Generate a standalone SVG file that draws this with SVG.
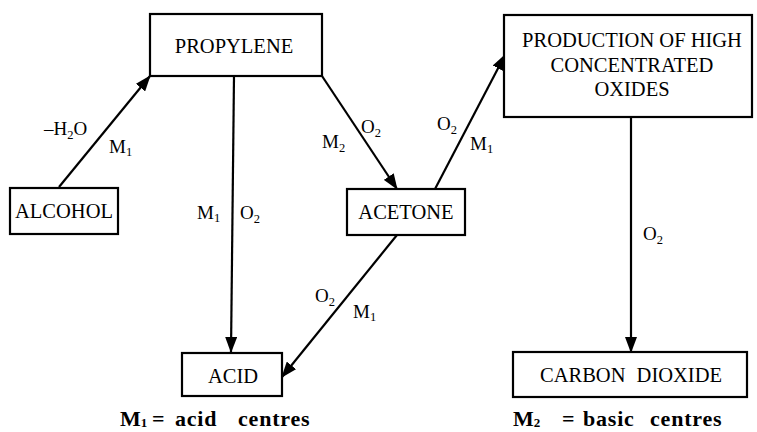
<svg xmlns="http://www.w3.org/2000/svg" width="757" height="432" viewBox="0 0 757 432">
<style>
.box{fill:#fff;stroke:#000;stroke-width:2.2}
.nt{font-family:'Liberation Serif','DejaVu Serif',serif;font-size:20.5px;fill:#000;text-anchor:middle}
.el{font-family:'Liberation Serif','DejaVu Serif',serif;font-size:19px;fill:#000}
.sub{font-size:12.5px}
.leg{font-family:'Liberation Serif','DejaVu Serif',serif;font-size:22px;font-weight:bold;fill:#000}
.cn{fill:none;stroke:#000;stroke-width:2.2;marker-end:url(#ah)}
</style>
<defs>
<marker id="ah" markerUnits="userSpaceOnUse" markerWidth="16" markerHeight="12" refX="15" refY="6" orient="auto">
<path d="M0,0 L16,6 L0,12 Z" fill="#000"/>
</marker>
</defs>
<rect width="757" height="432" fill="#fff"/>
<g id="connectors">
<line class="cn" x1="59" y1="187" x2="150" y2="76"/>
<line class="cn" x1="234" y1="76" x2="231" y2="352"/>
<line class="cn" x1="322" y1="76" x2="397" y2="189"/>
<line class="cn" x1="435" y1="189" x2="505" y2="55"/>
<line class="cn" x1="397" y1="235" x2="282" y2="377"/>
<line class="cn" x1="631" y1="117" x2="631" y2="352"/>
</g>
<g id="edge-labels">
<text class="el" x="44" y="135">–H<tspan class="sub" dy="4">2</tspan><tspan dy="-4">O</tspan></text>
<text class="el" x="109" y="153">M<tspan class="sub" dy="3">1</tspan></text>
<text class="el" x="197" y="219">M<tspan class="sub" dy="3">1</tspan></text>
<text class="el" x="240" y="219">O<tspan class="sub" dy="4">2</tspan></text>
<text class="el" x="322" y="148">M<tspan class="sub" dy="4">2</tspan></text>
<text class="el" x="361" y="133">O<tspan class="sub" dy="4">2</tspan></text>
<text class="el" x="437" y="130">O<tspan class="sub" dy="4">2</tspan></text>
<text class="el" x="470" y="150">M<tspan class="sub" dy="3">1</tspan></text>
<text class="el" x="643" y="240">O<tspan class="sub" dy="4">2</tspan></text>
<text class="el" x="315" y="302">O<tspan class="sub" dy="4">2</tspan></text>
<text class="el" x="353" y="318">M<tspan class="sub" dy="3">1</tspan></text>
</g>
<g id="propylene">
<rect class="box" x="150" y="14" width="172" height="62"/>
<text class="nt" x="234" y="53">PROPYLENE</text>
</g>
<g id="alcohol">
<rect class="box" x="10" y="188" width="108" height="46"/>
<text class="nt" x="64" y="218">ALCOHOL</text>
</g>
<g id="acetone">
<rect class="box" x="347" y="189" width="118" height="46"/>
<text class="nt" x="406" y="219">ACETONE</text>
</g>
<g id="production">
<rect class="box" x="504" y="15" width="248" height="102"/>
<text class="nt" x="632" y="47">PRODUCTION OF HIGH</text>
<text class="nt" x="632" y="72">CONCENTRATED</text>
<text class="nt" x="632" y="96">OXIDES</text>
</g>
<g id="acid">
<rect class="box" x="182" y="353" width="100" height="43"/>
<text class="nt" x="233" y="383">ACID</text>
</g>
<g id="carbon-dioxide">
<rect class="box" x="513" y="352" width="234" height="45"/>
<text class="nt" x="631" y="382" word-spacing="6">CARBON DIOXIDE</text>
</g>
<g id="legend">
<text class="leg" x="120" y="426">M<tspan font-size="13" dy="1">1</tspan><tspan dy="-1" x="152">=</tspan><tspan x="175" letter-spacing="0.8">acid</tspan><tspan x="238" letter-spacing="0.8">centres</tspan></text>
<text class="leg" x="513" y="426">M<tspan font-size="13" dy="1">2</tspan><tspan dy="-1" x="562">=</tspan><tspan x="583" letter-spacing="0.8">basic</tspan><tspan x="650" letter-spacing="0.8">centres</tspan></text>
</g>
</svg>
